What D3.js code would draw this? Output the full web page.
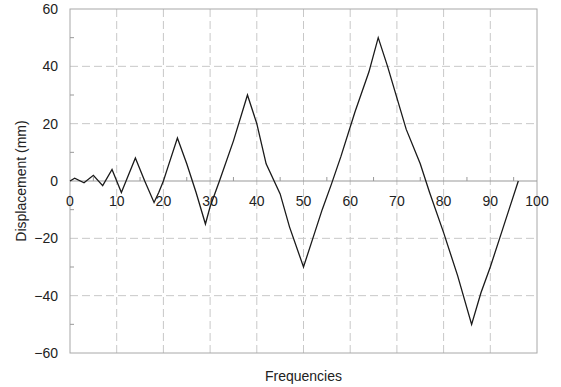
<!DOCTYPE html>
<html>
<head>
<meta charset="utf-8">
<script src="https://cdn.jsdelivr.net/npm/d3@7"></script>
<style>
  body { margin: 0; background: #fff; }
  text { font-family: "Liberation Sans", Arial, sans-serif; fill: #222; }
</style>
</head>
<body>
<div class="chart"></div>
<script>
// displacement readings
const frequencies = [0, 1, 3, 5, 7, 9, 11, 12, 14, 16, 18, 19, 20, 21, 23, 25, 27, 29, 30, 32, 35, 38, 40, 42, 45, 47, 50, 52, 54, 56, 58, 61, 64, 66, 68, 70, 72, 75, 77, 80, 83, 86, 88, 90, 92, 94, 96];
const displacement = [0, 1, -0.6, 2, -1.6, 4, -4, 0, 8, 0, -7.5, -4, 0, 5, 15, 6, -4, -15, -9, 0, 14, 30, 20, 6, -4.5, -16, -30, -20, -10, -1, 8.5, 24, 38, 50, 40, 29, 18, 6, -4, -18, -33, -50, -39, -30, -20, -10, 0];
const xTicks = [0, 10, 20, 30, 40, 50, 60, 70, 80, 90, 100];
const yTicks = [60, 40, 20, 0, -20, -40, -60];
const xMinor = [5, 15, 25, 35, 45, 55, 65, 75, 85, 95];
const yMinor = [50, 30, 10, -10, -30, -50];

const margin = { top: 9, right: 24, bottom: 34, left: 70 };
const width = 561 - margin.left - margin.right;
const height = 387 - margin.top - margin.bottom;

const svg = d3.select('.chart')
  .append('svg')
  .attr('width', 561)
  .attr('height', 387)
  .append('g')
  .attr('transform', `translate(${margin.left},${margin.top})`);

const x = d3.scaleLinear().domain([0, 100]).range([0, width]);
const y = d3.scaleLinear().domain([-60, 60]).range([height, 0]);

// dashed grid
svg.append('g')
  .selectAll('line')
  .data(xTicks.filter(t => t > 0 && t < 100))
  .join('line')
  .attr('x1', d => x(d)).attr('x2', d => x(d))
  .attr('y1', 0).attr('y2', height)
  .attr('stroke', '#c8c8c8')
  .attr('stroke-dasharray', '8,4');

svg.append('g')
  .selectAll('line')
  .data(yTicks.filter(t => t != 0 && Math.abs(t) < 60))
  .join('line')
  .attr('x1', 0).attr('x2', width)
  .attr('y1', d => y(d)).attr('y2', d => y(d))
  .attr('stroke', '#c8c8c8')
  .attr('stroke-dasharray', '8,4');

// frame
svg.append('rect')
  .attr('x', 0).attr('y', 0)
  .attr('width', width).attr('height', height)
  .attr('fill', 'none')
  .attr('stroke', '#a8a8a8');

// zero line with minor ticks
svg.append('line')
  .attr('x1', 0).attr('x2', width)
  .attr('y1', y(0)).attr('y2', y(0))
  .attr('stroke', '#999');

svg.append('g')
  .selectAll('line')
  .data(xMinor)
  .join('line')
  .attr('x1', d => x(d)).attr('x2', d => x(d))
  .attr('y1', y(0)).attr('y2', y(0) - 4)
  .attr('stroke', '#999');

svg.append('g')
  .selectAll('line')
  .data(yMinor)
  .join('line')
  .attr('x1', 0).attr('x2', 4)
  .attr('y1', d => y(d)).attr('y2', d => y(d))
  .attr('stroke', '#999');

// tick labels
svg.append('g')
  .selectAll('text')
  .data(yTicks)
  .join('text')
  .attr('x', -12)
  .attr('y', d => y(d))
  .attr('dy', '0.36em')
  .attr('text-anchor', 'end')
  .style('font-size', '14px')
  .text(d => d < 0 ? '\u2212' + Math.abs(d) : d);

svg.append('g')
  .selectAll('text')
  .data(xTicks)
  .join('text')
  .attr('x', d => x(d))
  .attr('y', y(0) + 25)
  .attr('text-anchor', 'middle')
  .style('font-size', '14px')
  .text(d => d);

// series
const line = d3.line()
  .x((d, i) => x(frequencies[i]))
  .y(d => y(d));

svg.append('path')
  .datum(displacement)
  .attr('fill', 'none')
  .attr('stroke', '#1a1a1a')
  .attr('stroke-width', 1.3)
  .attr('d', line);

// axis titles
svg.append('text')
  .attr('x', width / 2)
  .attr('y', height + 28)
  .attr('text-anchor', 'middle')
  .style('font-size', '14px')
  .text('Frequencies');

svg.append('text')
  .attr('transform', `translate(-44,${height / 2}) rotate(-90)`)
  .attr('text-anchor', 'middle')
  .style('font-size', '14px')
  .text('Displacement (mm)');
</script>
</body>
</html>
